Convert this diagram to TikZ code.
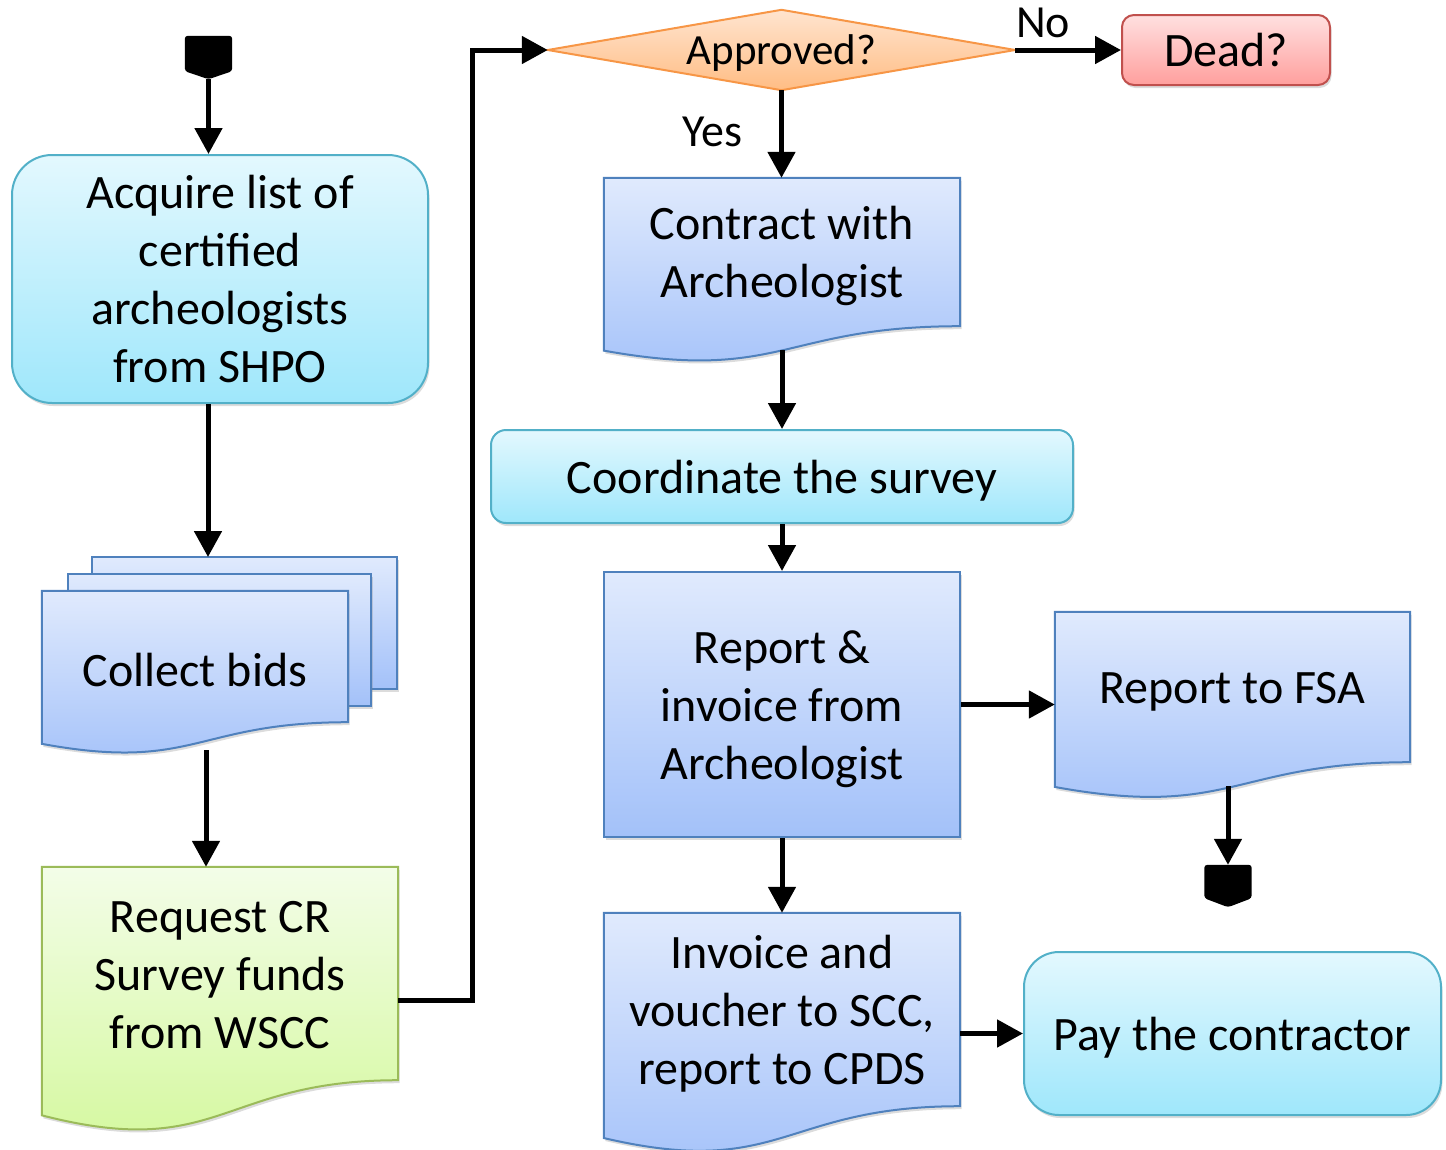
\documentclass[tikz,border=0pt]{standalone}
\usepackage{fontspec}
\setmainfont{Carlito}
\usetikzlibrary{arrows.meta,calc,shadows,backgrounds}
\definecolor{cyanT}{HTML}{E3F8FE}
\definecolor{cyanB}{HTML}{9FE7FB}
\definecolor{cyanD}{HTML}{52B0C8}
\definecolor{blueT}{HTML}{E0EAFD}
\definecolor{blueB}{HTML}{A3C1F9}
\definecolor{blueD}{HTML}{4F81BD}
\definecolor{greenT}{HTML}{F3FDE8}
\definecolor{greenB}{HTML}{D3F89B}
\definecolor{greenD}{HTML}{9BBB59}
\definecolor{orangeT}{HTML}{FFE4CF}
\definecolor{orangeB}{HTML}{FFBD84}
\definecolor{orangeD}{HTML}{F79646}
\definecolor{redT}{HTML}{FFE0E0}
\definecolor{redB}{HTML}{FF9F9D}
\definecolor{redD}{HTML}{C0504D}
\newcommand\docpath[1]{(#1.north west) -- (#1.north east) -- (#1.south east) .. controls (#1.south) and ($(#1.south)!-0.380!(#1.north)$) .. ($(#1.south west)!-0.1646!(#1.north west)$) -- cycle}
\newcommand\T[1]{\rule{0pt}{0.9em}#1\rule[-0.21em]{0pt}{0pt}}
\tikzset{
  conn/.style={line width=5pt, -{Triangle[length=26pt,width=27pt]}},
  txt/.style={font=\fontsize{48}{58}\selectfont, align=center, inner sep=0pt},
  lbl/.style={font=\fontsize{46}{52}\selectfont, inner sep=0pt},
  shadowed/.style={drop shadow={opacity=0.28, shadow xshift=1.5pt, shadow yshift=-3pt}},
  cyanbox/.style={txt, shadowed, draw=cyanD, line width=2pt, top color=cyanT, bottom color=cyanB},
  bluebox/.style={txt, shadowed, draw=blueD, line width=2pt, top color=blueT, bottom color=blueB},
  redbox/.style={txt, shadowed, draw=redD, line width=2pt, top color=redT, bottom color=redB},
  docnode/.style={txt},
  blueshape/.style={shadowed, draw=blueD, line width=2pt, top color=blueT, bottom color=blueB},
  greenshape/.style={shadowed, draw=greenD, line width=2pt, top color=greenT, bottom color=greenB},
  orangeshape/.style={draw=orangeD, line width=2pt, top color=orangeT, bottom color=orangeB},
  marker/.style={inner sep=0pt, minimum width=47pt, minimum height=43pt},
}
\begin{document}
\begin{tikzpicture}[x=1pt,y=-1pt]
\useasboundingbox (0,0) rectangle (1446,1149);

\node[marker] (start) at (208.5,57.5) {};
\node[cyanbox, rounded corners=40pt, minimum width=416pt, minimum height=248pt] (acq) at (220,279) {\T{Acquire list of\\certified\\archeologists\\from SHPO}};
\coordinate (bidstop) at (208,557);
\node[docnode, minimum width=306pt, minimum height=131pt] (bids) at (195,656.5) {};
\node[txt] (bidstext) at (195,670) {\T{Collect bids}};
\coordinate (bidsout) at (206,750);
\node[docnode, minimum width=356pt, minimum height=213pt] (req) at (220,973.5) {\T{Request CR\\Survey funds\\from WSCC}};
\node[txt, font=\fontsize{43}{50}\selectfont, minimum width=467pt, minimum height=80pt] (appr) at (781.5,50) {\T{Approved?}};
\node[redbox, rounded corners=12pt, minimum width=208pt, minimum height=70pt] (dead) at (1226,50) {\T{Dead?}};
\node[docnode, minimum width=356pt, minimum height=148pt] (contract) at (782,252) {\T{Contract with\\Archeologist}};
\node[cyanbox, rounded corners=15pt, minimum width=582pt, minimum height=93pt] (coord) at (782,476.5) {\T{Coordinate the survey}};
\node[bluebox, minimum width=356pt, minimum height=265pt] (rep) at (782,704.5) {\T{Report \&\\invoice from\\Archeologist}};
\node[docnode, minimum width=355pt, minimum height=150pt] (fsa) at (1232.5,687) {\T{Report to FSA}};
\node[marker, minimum height=42pt] (stop) at (1228,886) {};
\node[docnode, minimum width=356pt, minimum height=193pt] (inv) at (782,1009.5) {\T{Invoice and\\voucher to SCC,\\report to CPDS}};
\node[cyanbox, rounded corners=35pt, minimum width=417pt, minimum height=163pt] (pay) at (1232.5,1033.5) {\T{Pay the contractor}};
\node[lbl] (yes) at (712,131) {\T{Yes}};
\node[lbl] (no) at (1043,22) {\T{No}};

\begin{pgfonlayer}{background}
  \fill[rounded corners=3pt] (start.north west) -- (start.north east) -- ($(start.south east)+(0,-8)$) -- (start.south) -- ($(start.south west)+(0,-8)$) -- cycle;
  \fill[rounded corners=3pt] (stop.north west) -- (stop.north east) -- ($(stop.south east)+(0,-9)$) -- (stop.south) -- ($(stop.south west)+(0,-9)$) -- cycle;
  \path[blueshape] (92,557) rectangle (397,689);
  \path[blueshape] (68,574) rectangle (371,706);
  \path[blueshape] \docpath{bids};
  \path[greenshape] \docpath{req};
  \path[blueshape] \docpath{contract};
  \path[blueshape] \docpath{fsa};
  \path[blueshape] \docpath{inv};
  \path[orangeshape] (appr.north) -- (appr.east) -- (appr.south) -- (appr.west) -- cycle;
\end{pgfonlayer}

\coordinate (contractout) at ($(contract.south)!-0.163!(contract.north)$);
\coordinate (fsaout) at ($(fsa.south)!-0.16!(fsa.north)$);
\draw[conn] (start.south) -- (start.south |- acq.north);
\draw[conn] (acq.south -| bidstop) -- (bidstop);
\draw[conn] (bidsout) -- (bidsout |- req.north);
\draw[conn] ($(req.east)+(0,26.5)$) -- ++(74,0) |- (appr.west);
\draw[conn] (appr.south) -- (appr.south |- contract.north);
\draw[conn] (appr.east) -- (dead.west);
\draw[conn] (contractout) -- (contractout |- coord.north);
\draw[conn] (coord.south) -- (rep.north);
\draw[conn] (rep.east) -- (rep.east -| fsa.west);
\draw[conn] (fsaout -| stop.north) -- (stop.north);
\draw[conn] (rep.south) -- (inv.north);
\draw[conn] (pay.west -| inv.east) -- (pay.west);
\end{tikzpicture}
\end{document}
